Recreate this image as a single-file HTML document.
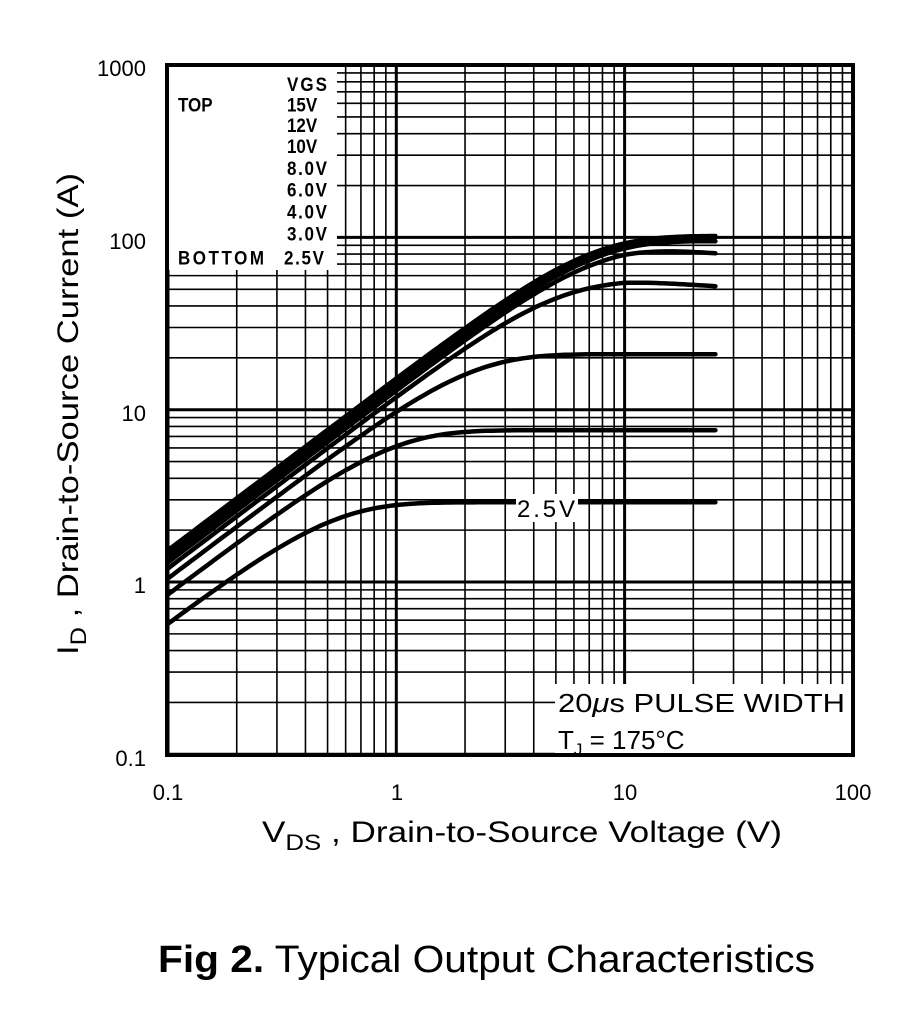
<!DOCTYPE html>
<html><head><meta charset="utf-8"><style>
body{margin:0;background:#fff;width:924px;height:1024px;overflow:hidden}
text{font-family:"Liberation Sans",Arial,sans-serif;fill:#000}
</style></head><body>
<svg id="s" width="924" height="1024" xmlns="http://www.w3.org/2000/svg">
<g id="grid"></g>
<rect x="168" y="66" width="169" height="204" fill="#fff"/>
<g id="curves" fill="none" stroke="#000" stroke-width="4.5" stroke-linejoin="round" stroke-linecap="round"></g>
<rect x="516" y="494" width="62" height="28" fill="#fff"/>
<text x="517" y="517" font-size="24" textLength="58">2.5V</text>
<rect x="555" y="684" width="296" height="70" fill="#fff"/>
<text x="558" y="712" font-size="26" textLength="287" lengthAdjust="spacingAndGlyphs">20<tspan font-style="italic">μ</tspan>s PULSE WIDTH</text>
<text x="558" y="749" font-size="26">T<tspan font-size="17" dy="6">J</tspan><tspan dy="-6"> = 175°C</tspan></text>
<rect x="167" y="65" width="686" height="690" fill="none" stroke="#000" stroke-width="4"/>
<g font-weight="bold" font-size="17" transform="scale(1,1.15)">
<text x="178" y="97">TOP</text>
<text x="178" y="230" textLength="86">BOTTOM</text>
<text x="287" y="79" textLength="40">VGS</text>
<text x="287" y="97">15V</text>
<text x="287" y="115">12V</text>
<text x="287" y="133">10V</text>
<text x="287" y="152" textLength="40">8.0V</text>
<text x="287" y="171" textLength="40">6.0V</text>
<text x="287" y="190" textLength="40">4.0V</text>
<text x="287" y="209" textLength="40">3.0V</text>
<text x="284" y="230" textLength="40">2.5V</text>
</g>
<g font-size="22" text-anchor="end">
<text x="146" y="76">1000</text>
<text x="146" y="249">100</text>
<text x="146" y="421">10</text>
<text x="146" y="593">1</text>
<text x="146" y="766">0.1</text>
</g>
<g font-size="22" text-anchor="middle">
<text x="168" y="800">0.1</text>
<text x="397" y="800">1</text>
<text x="625" y="800">10</text>
<text x="853" y="800">100</text>
</g>
<text x="262" y="842" font-size="30" textLength="520" lengthAdjust="spacingAndGlyphs">V<tspan font-size="22" dy="8">DS</tspan><tspan dy="-8"> , Drain-to-Source Voltage (V)</tspan></text>
<text transform="translate(78,655) rotate(-90)" font-size="30" textLength="482" lengthAdjust="spacingAndGlyphs">I<tspan font-size="22" dy="8">D</tspan><tspan dy="-8"> , Drain-to-Source Current (A)</tspan></text>
<text x="158" y="972" font-size="38" textLength="657" lengthAdjust="spacingAndGlyphs"><tspan font-weight="bold">Fig 2.</tspan>  Typical Output Characteristics</text>
</svg>
<script>
function X(v){return 168+228.3*Math.log10(v)+228.3;}
function Y(i){return 582-172.3*Math.log10(i);}
var g=document.getElementById("grid"),h="";
for(var d=-1;d<2;d++)for(var k=1;k<10;k++){var v=k*Math.pow(10,d);var x=X(v);
h+='<line x1="'+x+'" y1="66" x2="'+x+'" y2="755" stroke="#000" stroke-width="'+(k==1?3:1.6)+'"/>';}
for(var d=-1;d<3;d++)for(var k=1;k<10;k++){var v=k*Math.pow(10,d);var y=Y(v);
h+='<line x1="168" y1="'+y+'" x2="853" y2="'+y+'" stroke="#000" stroke-width="'+(k==1?3:1.6)+'"/>';}
g.innerHTML=h;
var c=[[5.8,2.9,0],[8.5,7.6,0],[10.5,21,0],[12,56,0.07],[13,88,0.08],[13.8,97,0.02],[14.3,100,0],[14.8,101,0],[15.3,102,0]];
var ch="";
c.forEach(function(p){var d="";for(var t=0;t<=120;t++){var v=0.1*Math.pow(250,t/120);
var I=p[1]*Math.tanh(p[0]*v/p[1]);if(p[2]&&v>10)I*=1-p[2]*Math.log10(v/10)/0.4;
d+=(t?"L":"M")+X(v).toFixed(1)+","+Y(I).toFixed(1);}
ch+='<path d="'+d+'"/>';});
document.getElementById("curves").innerHTML=ch;
</script>
</body></html>
